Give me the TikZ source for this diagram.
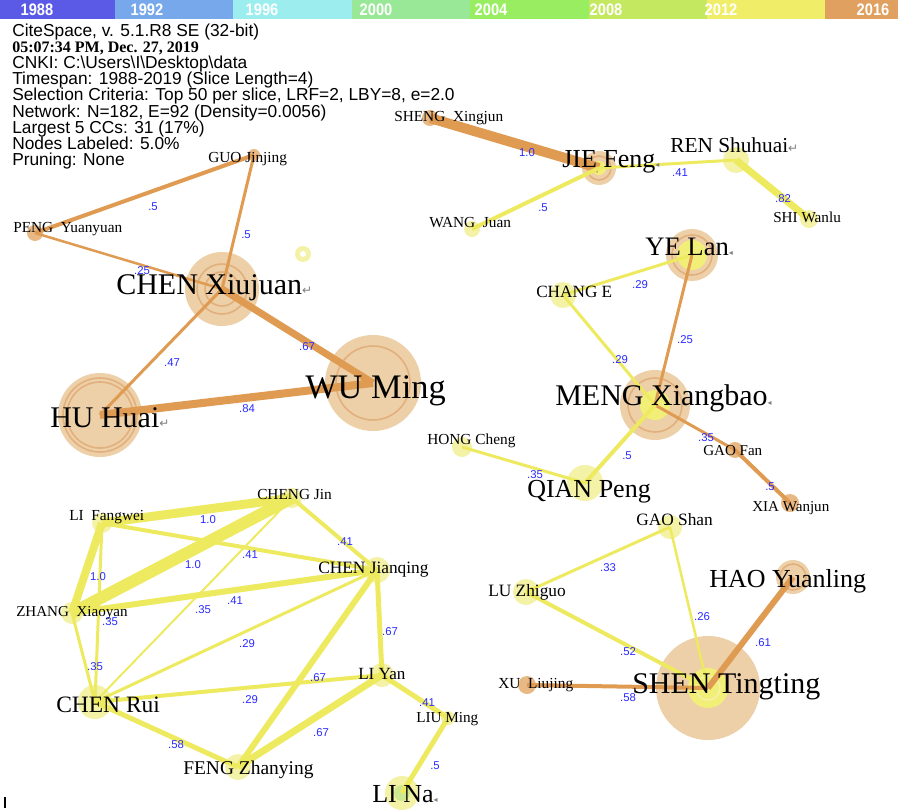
\documentclass[tikz,border=0pt]{standalone}
\usepackage{fontspec}
\setmainfont{Liberation Serif}
\newfontfamily\hdrfont{Liberation Sans}
\newfontfamily\legfont[FakeStretch=0.88]{Liberation Sans Bold}
\newfontfamily\symfont{DejaVu Sans}
\definecolor{tanC}{HTML}{EDCFA8}
\definecolor{ringC}{HTML}{E2B07C}
\definecolor{sorgC}{HTML}{E8B885}
\definecolor{ylwC}{HTML}{F4F2A6}
\definecolor{ylcC}{HTML}{F2EF78}
\definecolor{grnC}{HTML}{CDE890}
\definecolor{orgE}{HTML}{E09B52}
\definecolor{ylwE}{HTML}{EEEA60}
\definecolor{labC}{HTML}{2B2BFF}
\definecolor{y88}{HTML}{5A5AE6}
\definecolor{y92}{HTML}{78A8EC}
\definecolor{y96}{HTML}{9CEEEE}
\definecolor{y00}{HTML}{98E898}
\definecolor{y04}{HTML}{98EE60}
\definecolor{y08}{HTML}{C4E860}
\definecolor{y12}{HTML}{F0EE68}
\definecolor{y16}{HTML}{E0A060}
\newcommand\retmark{{\symfont\color{gray}\fontsize{9}{9}\selectfont ↵}}
\newcommand\trimark{{\symfont\color{gray}\fontsize{6}{6}\selectfont ◂}}
\begin{document}
\begin{tikzpicture}[x=0.75pt,y=-0.75pt,
 rad/.style={minimum size=#1*1.5pt},
 nd/.style={circle,inner sep=0pt,draw=none},
 tanN/.style={nd,fill=tanC},
 sorgN/.style={nd,fill=sorgC},
 ylwN/.style={nd,fill=ylwC},
 ylcN/.style={nd,fill=ylcC},
 ringN/.style={circle,inner sep=0pt,draw=ringC,line width=1.2pt,fill=none},
 oedge/.style={draw=orgE},
 yedge/.style={draw=ylwE},
 lw/.style={line width=#1*0.75pt},
 elab/.style={font=\hdrfont\fontsize{8.5}{9}\selectfont,text=labC,inner sep=0pt},
 lbl/.style={font=\fontsize{#1}{#1}\selectfont,anchor=base west,inner sep=0pt,text=black},
 hdr/.style={font=\hdrfont\fontsize{13}{13}\selectfont,anchor=base west,inner sep=0pt},
 yearlab/.style={font=\legfont\fontsize{12.5}{12.5}\selectfont,text=white,inner sep=0pt},
]
\useasboundingbox (0,0) rectangle (898,809);
\fill[white] (0,0) rectangle (898,809);
% legend bar
\fill[y88] (0,0) rectangle (115,19);
\fill[y92] (115,0) rectangle (233,19);
\fill[y96] (233,0) rectangle (352,19);
\fill[y00] (352,0) rectangle (470,19);
\fill[y04] (470,0) rectangle (589,19);
\fill[y08] (589,0) rectangle (707,19);
\fill[y12] (707,0) rectangle (825,19);
\fill[y16] (825,0) rectangle (898,19);
\node[yearlab] (l1) at (37,10) {1988};
\node[yearlab] (l2) at (147,10) {1992};
\node[yearlab] (l3) at (262,10) {1996};
\node[yearlab] (l4) at (376,10) {2000};
\node[yearlab] (l5) at (491,10) {2004};
\node[yearlab] (l6) at (606,10) {2008};
\node[yearlab] (l7) at (721,10) {2012};
\node[yearlab] (l8) at (873,10) {2016};
% header
\node[hdr] (h1) at (12,37) {CiteSpace, v. 5.1.R8 SE (32-bit)};
\node[hdr,font=\bfseries\fontsize{12}{12}\selectfont] (h2) at (12,53) {05:07:34 PM, Dec. 27, 2019};
\node[hdr] (h3) at (12,69) {CNKI: C:\textbackslash Users\textbackslash I\textbackslash Desktop\textbackslash data};
\node[hdr] (h4) at (12,85) {Timespan: 1988-2019 (Slice Length=4)};
\node[hdr] (h5) at (12,101) {Selection Criteria: Top 50 per slice, LRF=2, LBY=8, e=2.0};
\node[hdr] (h6) at (12,118) {Network: N=182, E=92 (Density=0.0056)};
\node[hdr] (h7) at (12,134) {Largest 5 CCs: 31 (17\%)};
\node[hdr] (h8) at (12,150) {Nodes Labeled: 5.0\%};
\node[hdr] (h9) at (12,166) {Pruning: None};
% ---------- node circles ----------
% cluster 1
\node[sorgN,rad=6] (guo) at (254,155) {};
\node[sorgN,rad=8] (peng) at (35,233) {};
\node[tanN,rad=37] (cx) at (222,289) {};
\node[ringN,rad=25] (cxa) at (cx) {};
\node[ringN,rad=17] (cxb) at (cx) {};
\node[tanN,rad=48] (wu) at (373,383) {};
\node[ringN,rad=37] (wua) at (wu) {};
\node[tanN,rad=42] (hu) at (100,415) {};
\node[ringN,rad=37] (hua) at (hu) {};
\node[ringN,rad=33] (hub) at (hu) {};
\node[ylwN,rad=8] (yr) at (303,254) {};
\node[nd,fill=white,rad=3] (yri) at (yr) {};
% cluster 2
\node[sorgN,rad=8] (sheng) at (430,118) {};
\node[tanN,rad=17] (jie) at (599,168) {};
\node[ringN,rad=12] (jiea) at (jie) {};
\node[ylcN,rad=7] (jieb) at (jie) {};
\node[ylwN,rad=13] (ren) at (736,160) {};
\node[ylwN,rad=9] (shi) at (809,219) {};
\node[ylwN,rad=8] (wang) at (472,229) {};
\node[tanN,rad=26] (ye) at (692,255) {};
\node[ringN,rad=20] (yea) at (ye) {};
\node[ylcN,rad=15] (yeb) at (ye) {};
\node[ylwN,rad=13] (change) at (563,295) {};
\node[tanN,rad=35] (meng) at (655,405) {};
\node[ringN,rad=27] (menga) at (meng) {};
\node[ylcN,rad=15] (mengb) at (meng) {};
\node[sorgN,rad=8] (gaofan) at (735,450) {};
\node[sorgN,rad=9] (xia) at (790,503) {};
\node[ylwN,rad=18] (qian) at (585,483) {};
\node[ylwN,rad=10] (hong) at (462,447) {};
% cluster 3
\node[ylwN,rad=10] (chengjin) at (292,498) {};
\node[ylwN,rad=10] (lif) at (102,523) {};
\node[ylwN,rad=13] (cj) at (377,570) {};
\node[ylwN,rad=11] (zhang) at (72,613) {};
\node[ylwN,rad=17] (cr) at (95,702) {};
\node[ylwN,rad=12] (liyan) at (382,675) {};
\node[ylwN,rad=13] (feng) at (238,767) {};
\node[ylwN,rad=7] (liu) at (448,718) {};
\node[ylwN,rad=17] (lina) at (402,793) {};
\node[nd,fill=grnC,rad=8] (linab) at (lina) {};
% cluster 4
\node[ylwN,rad=12] (gaoshan) at (670,527) {};
\node[ylwN,rad=13] (lu) at (526,592) {};
\node[tanN,rad=17] (hao) at (793,577) {};
\node[ringN,rad=13] (haoa) at (hao) {};
\node[sorgN,rad=9] (xu) at (527,685) {};
\node[tanN,rad=52] (shen) at (708,688) {};
\node[ylcN,rad=20] (shenb) at (shen) {};
\node[circle,inner sep=0pt,draw=ylwC,line width=1.2pt,rad=12] (shenc) at (shen) {};
% ---------- edges ----------
\draw[oedge,lw=4] (guo.center) -- (peng.center);
\draw[oedge,lw=3] (guo.center) -- (cx.center);
\draw[oedge,lw=2.5] (peng.center) -- (cx.center);
\draw[oedge,lw=3] (cx.center) -- (hu.center);
\draw[oedge,lw=7] (cx.center) -- (wu.center);
\draw[oedge,lw=8] (hu.center) -- (wu.center);
\draw[oedge,lw=10] (sheng.center) -- (jie.center);
\draw[yedge,lw=3] (jie.center) -- (ren.center);
\draw[yedge,lw=7] (ren.center) -- (shi.center);
\draw[yedge,lw=4] (jie.center) -- (wang.center);
\draw[yedge,lw=3] (ye.center) -- (change.center);
\draw[yedge,lw=3] (change.center) -- (meng.center);
\draw[oedge,lw=3] (ye.center) -- (meng.center);
\draw[oedge,lw=3] (meng.center) -- (gaofan.center);
\draw[oedge,lw=4] (gaofan.center) -- (xia.center);
\draw[yedge,lw=4] (meng.center) -- (qian.center);
\draw[yedge,lw=3] (hong.center) -- (qian.center);
\draw[yedge,lw=9] (lif.center) -- (chengjin.center);
\draw[yedge,lw=12] (zhang.center) -- (chengjin.center);
\draw[yedge,lw=8] (lif.center) -- (zhang.center);
\draw[yedge,lw=3] (lif.center) -- (cr.center);
\draw[yedge,lw=4] (lif.center) -- (cj.center);
\draw[yedge,lw=2] (chengjin.center) -- (cr.center);
\draw[yedge,lw=6] (zhang.center) -- (cj.center);
\draw[yedge,lw=3] (cr.center) -- (cj.center);
\draw[yedge,lw=4] (cr.center) -- (liyan.center);
\draw[yedge,lw=6] (feng.center) -- (cj.center);
\draw[yedge,lw=5] (cr.center) -- (feng.center);
\draw[yedge,lw=3] (zhang.center) -- (cr.center);
\draw[yedge,lw=4] (chengjin.center) -- (cj.center);
\draw[yedge,lw=5] (cj.center) -- (liyan.center);
\draw[yedge,lw=7] (liyan.center) -- (feng.center);
\draw[yedge,lw=5] (liyan.center) -- (liu.center);
\draw[yedge,lw=5] (liu.center) -- (lina.center);
\draw[yedge,lw=3] (gaoshan.center) -- (lu.center);
\draw[yedge,lw=2.5] (gaoshan.center) -- (shen.center);
\draw[yedge,lw=4] (lu.center) -- (shen.center);
\draw[oedge,lw=6] (hao.center) -- (shen.center);
\draw[oedge,lw=4] (xu.center) -- (shen.center);
% ---------- edge labels ----------
\node[elab] (e1) at (153,207) {.5};
\node[elab] (e2) at (246,235) {.5};
\node[elab] (e3) at (142,271) {.25};
\node[elab] (e4) at (172,363) {.47};
\node[elab] (e5) at (307,347) {.67};
\node[elab] (e6) at (247,409) {.84};
\node[elab] (e7) at (527,153) {1.0};
\node[elab] (e8) at (680,173) {.41};
\node[elab] (e9) at (783,199) {.82};
\node[elab] (e10) at (543,208) {.5};
\node[elab] (e11) at (640,285) {.29};
\node[elab] (e12) at (620,360) {.29};
\node[elab] (e13) at (685,340) {.25};
\node[elab] (e14) at (706,438) {.35};
\node[elab] (e15) at (770,487) {.5};
\node[elab] (e16) at (627,456) {.5};
\node[elab] (e17) at (535,475) {.35};
\node[elab] (e18) at (208,520) {1.0};
\node[elab] (e19) at (193,565) {1.0};
\node[elab] (e20) at (98,577) {1.0};
\node[elab] (e21) at (110,622) {.35};
\node[elab] (e22) at (250,555) {.41};
\node[elab] (e23) at (203,610) {.35};
\node[elab] (e24) at (235,601) {.41};
\node[elab] (e25) at (247,644) {.29};
\node[elab] (e26) at (250,700) {.29};
\node[elab] (e27) at (318,678) {.67};
\node[elab] (e28) at (176,745) {.58};
\node[elab] (e29) at (95,667) {.35};
\node[elab] (e30) at (345,542) {.41};
\node[elab] (e31) at (390,632) {.67};
\node[elab] (e32) at (321,733) {.67};
\node[elab] (e33) at (427,703) {.41};
\node[elab] (e34) at (435,766) {.5};
\node[elab] (e35) at (608,568) {.33};
\node[elab] (e36) at (702,617) {.26};
\node[elab] (e37) at (628,652) {.52};
\node[elab] (e38) at (763,643) {.61};
\node[elab] (e39) at (628,698) {.58};
% ---------- node labels ----------
\node[lbl=11.5] (guo-l) at (208,163) {GUO Jinjing};
\node[lbl=11.5] (peng-l) at (13,233) {PENG\ \ Yuanyuan};
\node[lbl=22.5] (cx-l) at (116,294) {CHEN Xiujuan\retmark};
\node[lbl=25.8] (wu-l) at (305,398) {WU Ming};
\node[lbl=22.5] (hu-l) at (50,427) {HU Huai\retmark};
\node[lbl=11.5] (sheng-l) at (394,122) {SHENG\ \ Xingjun};
\node[lbl=19.5] (jie-l) at (562,168) {JIE Feng\trimark};
\node[lbl=16] (ren-l) at (670,153) {REN Shuhuai\retmark};
\node[lbl=11.4] (shi-l) at (773,223) {SHI Wanlu};
\node[lbl=11.5] (wang-l) at (429,227) {WANG\ \ Juan};
\node[lbl=20] (ye-l) at (645,255) {YE Lan\trimark};
\node[lbl=12.9] (change-l) at (536,297) {CHANG E};
\node[lbl=22.5] (meng-l) at (555,405) {MENG Xiangbao\trimark};
\node[lbl=11.5] (hong-l) at (427,444) {HONG Cheng};
\node[lbl=19.5] (qian-l) at (527,497) {QIAN Peng};
\node[lbl=11.3] (gaofan-l) at (703,455) {GAO Fan};
\node[lbl=11.3] (xia-l) at (752,511) {XIA Wanjun};
\node[lbl=11.5] (chengjin-l) at (257,499) {CHENG Jin};
\node[lbl=11.5] (lif-l) at (69,520) {LI\ \ Fangwei};
\node[lbl=13] (cj-l) at (318,573) {CHEN Jianqing};
\node[lbl=11.3] (zhang-l) at (16,616) {ZHANG\ \ Xiaoyan};
\node[lbl=17.6] (cr-l) at (56,712) {CHEN Rui};
\node[lbl=12.8] (liyan-l) at (358,679) {LI Yan};
\node[lbl=14.6] (feng-l) at (183,774) {FENG Zhanying};
\node[lbl=11.4] (liu-l) at (416,722) {LIU Ming};
\node[lbl=19.5] (lina-l) at (372,802) {LI Na\trimark};
\node[lbl=13] (gaoshan-l) at (636,525) {GAO Shan};
\node[lbl=13] (lu-l) at (488,596) {LU Zhiguo};
\node[lbl=19.5] (hao-l) at (709,587) {HAO Yuanling};
\node[lbl=11.5] (xu-l) at (498,688) {XU\ \ Liujing};
\node[lbl=22.5] (shen-l) at (632,693) {SHEN Tingting};
% cursor mark
\draw[black,line width=0.8pt] (5,797) -- (5,808);
\end{tikzpicture}
\end{document}
